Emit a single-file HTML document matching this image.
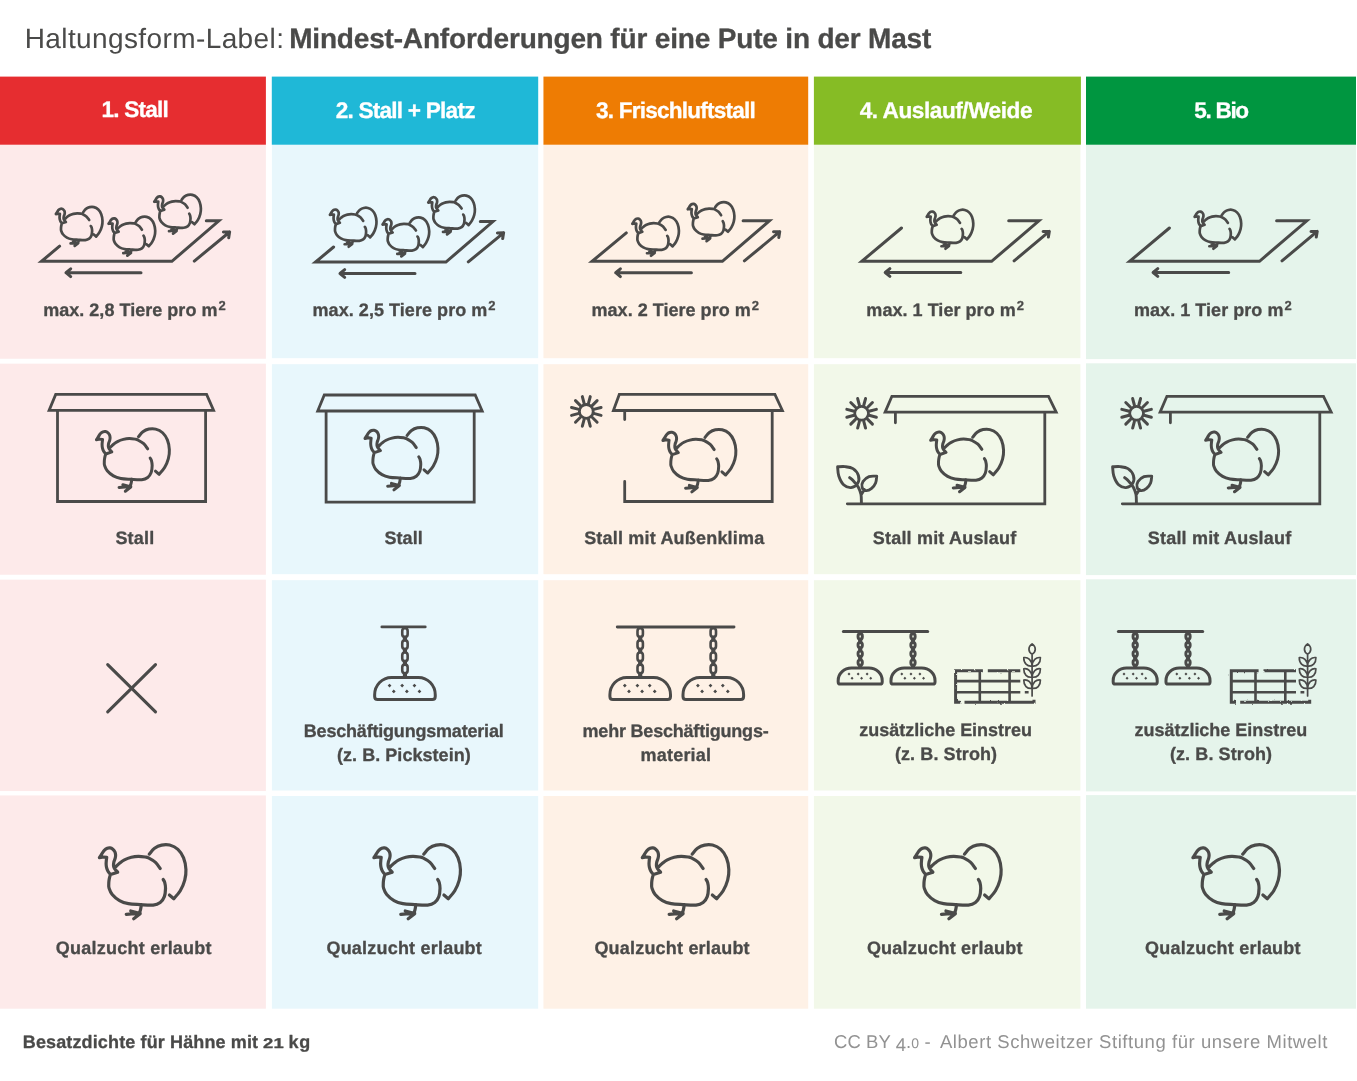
<!DOCTYPE html>
<html lang="de"><head><meta charset="utf-8"><title>Haltungsform-Label: Mindest-Anforderungen für eine Pute in der Mast</title>
<style>
html,body{margin:0;padding:0;background:#fff}
#p{position:relative;width:1357px;height:1081px;overflow:hidden;background:#fff}
.c{position:absolute}
#tx{position:absolute;left:0;top:0;font-family:"Liberation Sans",sans-serif;font-size:18px;font-weight:bold;fill:#4a4a49;stroke:#4a4a49;stroke-width:.3px;stroke-linejoin:round;white-space:pre}
#ic{position:absolute;left:0;top:0;fill:none;stroke:#4a4a49;stroke-linecap:round;stroke-linejoin:round}
</style></head>
<body><div id="p">
<svg id="ic" width="1357" height="1081" viewBox="0 0 1357 1081">
<defs><path id="tk" d="M0.51,14.38C0.93,13.72 2.24,11.68 3.05,10.44C3.86,9.21 4.48,7.88 5.37,6.97C6.26,6.06 7.41,5.36 8.38,4.98C9.34,4.59 10.23,4.5 11.16,4.65C12.08,4.81 13.12,5.25 13.93,5.9C14.74,6.56 15.55,7.6 16.02,8.59C16.48,9.58 16.67,10.75 16.71,11.83C16.75,12.91 16.54,13.91 16.25,15.07C15.95,16.23 15.22,17.54 14.95,18.77C14.68,20.01 14.5,21.38 14.63,22.48C14.75,23.57 15,24.28 15.69,25.35C16.39,26.41 18.28,28.28 18.79,28.87L11.62,31.27C11.19,30.73 9.73,29.19 9.07,28.03C8.42,26.88 7.99,25.56 7.68,24.33C7.37,23.1 7.26,21.86 7.22,20.63C7.18,19.39 7.35,18.02 7.45,16.92C7.55,15.83 7.76,14.53 7.82,14.05L4.67,13.68ZM17.41,22.94C17.98,22.4 19.53,20.76 20.88,19.7C22.23,18.64 23.58,17.5 25.51,16.55C27.44,15.6 30.14,14.59 32.45,14.01C34.77,13.42 37.08,13.09 39.4,13.03C41.71,12.98 44.65,13.42 46.34,13.68C48.03,13.95 47.82,13.72 49.53,14.62C51.24,15.53 54.64,17.33 56.6,19.1C58.57,20.87 60.53,24.21 61.32,25.24M11.62,31.27C11.46,31.74 10.95,32.97 10.69,34.05C10.43,35.13 10.18,36.6 10.04,37.76C9.91,38.91 9.84,39.83 9.86,41C9.87,42.16 9.56,43.05 10.14,44.75C10.71,46.44 11.58,49.09 13.33,51.18C15.08,53.27 17.94,55.78 20.64,57.31C23.33,58.84 26.04,59.71 29.48,60.38C32.92,61.05 37.15,61.08 41.27,61.32C45.4,61.56 50.9,62.15 54.25,61.79C57.59,61.44 59.45,60.61 61.32,59.2C63.19,57.78 64.56,55.66 65.45,53.3C66.33,50.94 66.57,47.41 66.63,45.05C66.69,42.69 66.19,40.62 65.8,39.15C65.41,37.68 64.52,36.69 64.27,36.2M50.35,10.85C51.24,9.87 53.6,6.47 55.66,4.95C57.72,3.44 60.22,2.3 62.74,1.77C65.25,1.24 68.04,1.04 70.75,1.77C73.47,2.5 76.69,3.99 79.01,6.13C81.33,8.27 83.33,11.28 84.67,14.62C86.01,17.96 86.83,22.48 87.03,26.18C87.22,29.87 86.79,33.25 85.85,36.79C84.91,40.33 83.2,44.3 81.37,47.41C79.54,50.51 75.96,54.09 74.88,55.42L70.52,51.65M42.45,61.32C42.32,62.15 41.98,64.82 41.63,66.27C41.27,67.73 40.55,69.42 40.33,70.05M27.36,70.99L41.27,69.81M31.84,67.69L39.5,69.81M34.79,75.47L41.27,70.4"/><path id="tks" d="M0.51,14.38C0.93,13.72 2.24,11.68 3.05,10.44C3.86,9.21 4.48,7.88 5.37,6.97C6.26,6.06 7.41,5.36 8.38,4.98C9.34,4.59 10.23,4.5 11.16,4.65C12.08,4.81 13.12,5.25 13.93,5.9C14.74,6.56 15.55,7.6 16.02,8.59C16.48,9.58 16.67,10.75 16.71,11.83C16.75,12.91 16.54,13.91 16.25,15.07C15.95,16.23 15.22,17.54 14.95,18.77C14.68,20.01 14.5,21.38 14.63,22.48C14.75,23.57 15,24.28 15.69,25.35C16.39,26.41 18.28,28.28 18.79,28.87L11.62,31.27C11.19,30.73 9.73,29.19 9.07,28.03C8.42,26.88 7.99,25.56 7.68,24.33C7.37,23.1 7.26,21.86 7.22,20.63C7.18,19.39 7.35,18.02 7.45,16.92C7.55,15.83 7.76,14.53 7.82,14.05L4.67,13.68ZM17.41,22.94C17.98,22.4 19.53,20.76 20.88,19.7C22.23,18.64 23.58,17.5 25.51,16.55C27.44,15.6 30.14,14.59 32.45,14.01C34.77,13.42 37.08,13.09 39.4,13.03C41.71,12.98 44.65,13.42 46.34,13.68C48.03,13.95 47.82,13.72 49.53,14.62C51.24,15.53 54.64,17.33 56.6,19.1C58.57,20.87 60.53,24.21 61.32,25.24M11.62,31.27C11.46,31.74 10.95,32.97 10.69,34.05C10.43,35.13 10.18,36.6 10.04,37.76C9.91,38.91 9.84,39.83 9.86,41C9.87,42.16 9.56,43.05 10.14,44.75C10.71,46.44 11.58,49.09 13.33,51.18C15.08,53.27 17.94,55.78 20.64,57.31C23.33,58.84 26.04,59.71 29.48,60.38C32.92,61.05 37.15,61.08 41.27,61.32C45.4,61.56 50.9,62.15 54.25,61.79C57.59,61.44 59.45,60.61 61.32,59.2C63.19,57.78 64.56,55.66 65.45,53.3C66.33,50.94 66.57,47.41 66.63,45.05C66.69,42.69 66.19,40.62 65.8,39.15C65.41,37.68 64.52,36.69 64.27,36.2M50.34,10.85C51.19,9.87 53.46,6.47 55.44,4.95C57.42,3.44 59.82,2.3 62.23,1.77C64.65,1.24 67.33,1.04 69.93,1.77C72.53,2.5 75.63,3.99 77.85,6.13C80.08,8.27 82,11.28 83.29,14.62C84.57,17.96 85.36,22.48 85.55,26.18C85.74,29.87 85.33,33.25 84.42,36.79C83.51,40.33 81.87,44.3 80.12,47.41C78.36,50.51 74.93,54.09 73.89,55.42L69.7,51.65M42.45,61.32C42.32,61.9 41.98,63.82 41.63,64.77C41.27,65.73 40.55,66.67 40.33,67.05M27.36,67.99L41.27,66.81M31.84,64.69L39.5,66.81M34.79,72.47L41.27,67.4"/><filter id="rough" x="-5%" y="-20%" width="110%" height="140%"><feTurbulence type="fractalNoise" baseFrequency="0.3" numOctaves="1" seed="5" result="n"/><feDisplacementMap in="SourceGraphic" in2="n" scale="2.6" xChannelSelector="R" yChannelSelector="G"/></filter></defs>
<rect x="0" y="143.7" width="265.9" height="215.05" fill="#fdeaea" stroke="none"/>
<rect x="0" y="363.65" width="265.9" height="211.1" fill="#fdeaea" stroke="none"/>
<rect x="0" y="579.65" width="265.9" height="211.4" fill="#fdeaea" stroke="none"/>
<rect x="0" y="795.45" width="265.9" height="213.25" fill="#fdeaea" stroke="none"/>
<rect x="271.9" y="143.7" width="266.3" height="214.5" fill="#e8f7fc" stroke="none"/>
<rect x="271.9" y="364.2" width="266.3" height="210" fill="#e8f7fc" stroke="none"/>
<rect x="271.9" y="580.2" width="266.3" height="210.3" fill="#e8f7fc" stroke="none"/>
<rect x="271.9" y="796" width="266.3" height="212.7" fill="#e8f7fc" stroke="none"/>
<rect x="543.45" y="143.7" width="264.75" height="214.5" fill="#fef1e6" stroke="none"/>
<rect x="543.45" y="364.2" width="264.75" height="210" fill="#fef1e6" stroke="none"/>
<rect x="543.45" y="580.2" width="264.75" height="210.3" fill="#fef1e6" stroke="none"/>
<rect x="543.45" y="796" width="264.75" height="212.7" fill="#fef1e6" stroke="none"/>
<rect x="813.9" y="143.7" width="266.5" height="214.5" fill="#f2f8e9" stroke="none"/>
<rect x="813.9" y="364.2" width="266.5" height="210" fill="#f2f8e9" stroke="none"/>
<rect x="813.9" y="580.2" width="266.5" height="210.3" fill="#f2f8e9" stroke="none"/>
<rect x="813.9" y="796" width="266.5" height="212.7" fill="#f2f8e9" stroke="none"/>
<rect x="1086" y="143.7" width="270" height="215.4" fill="#e5f4eb" stroke="none"/>
<rect x="1086" y="363.3" width="270" height="211.8" fill="#e5f4eb" stroke="none"/>
<rect x="1086" y="579.3" width="270" height="212.1" fill="#e5f4eb" stroke="none"/>
<rect x="1086" y="795.1" width="270" height="213.6" fill="#e5f4eb" stroke="none"/>
<rect x="0" y="76.6" width="265.9" height="68.1" fill="#e62d30" stroke="none"/>
<rect x="271.8" y="76.6" width="266.4" height="68.1" fill="#1fb8d7" stroke="none"/>
<rect x="543.45" y="76.6" width="264.75" height="68.1" fill="#ee7c03" stroke="none"/>
<rect x="813.9" y="76.6" width="267" height="68.1" fill="#86bc25" stroke="none"/>
<rect x="1086" y="76.6" width="270" height="68.1" fill="#009640" stroke="none"/>
<path d="M59.6,246.2L41.5,261.3L171.9,261.3L218.9,220.8L206.3,220.8" stroke-width="3" stroke-linejoin="miter"/>
<path d="M141,272.7L66,272.7M70.7,268.8L66,272.7L70.7,276.6" stroke-width="3"/>
<path d="M194.3,261.1L229.6,232M223.4,232.1L229.6,232L228.7,237.7" stroke-width="3"/>
<use href="#tks" transform="translate(55.6,206.2) scale(0.548)" stroke-width="4.93"/>
<use href="#tks" transform="translate(108.3,215.9) scale(0.548)" stroke-width="4.93"/>
<use href="#tks" transform="translate(154,193.9) scale(0.548)" stroke-width="4.93"/>
<path d="M333.6,247L315.5,262.1L445.9,262.1L492.9,221.6L480.3,221.6" stroke-width="3" stroke-linejoin="miter"/>
<path d="M415,273.5L340,273.5M344.7,269.6L340,273.5L344.7,277.4" stroke-width="3"/>
<path d="M468.3,261.9L503.6,232.8M497.4,232.9L503.6,232.8L502.7,238.5" stroke-width="3"/>
<use href="#tks" transform="translate(329.6,207) scale(0.548)" stroke-width="4.93"/>
<use href="#tks" transform="translate(382.3,216.7) scale(0.548)" stroke-width="4.93"/>
<use href="#tks" transform="translate(428,194.7) scale(0.548)" stroke-width="4.93"/>
<path d="M626.3,232.9L592.1,261.3L722.4,261.3L769.4,220.8L743.1,220.8" stroke-width="3" stroke-linejoin="miter"/>
<path d="M691.4,272.7L615.7,272.7M620.4,268.8L615.7,272.7L620.4,276.6" stroke-width="3"/>
<path d="M744.4,260.9L779.7,231.7M773.5,231.8L779.7,231.7L778.8,237.4" stroke-width="3"/>
<use href="#tks" transform="translate(632,216) scale(0.548)" stroke-width="4.93"/>
<use href="#tks" transform="translate(687.5,201.4) scale(0.548)" stroke-width="4.93"/>
<path d="M901.5,228L861.8,261.3L991.6,261.3L1038.9,220.8L1008.7,220.8" stroke-width="3" stroke-linejoin="miter"/>
<path d="M960.8,272.5L885.2,272.5M889.9,268.6L885.2,272.5L889.9,276.4" stroke-width="3"/>
<path d="M1014.1,260.9L1049.3,231.4M1043.1,231.5L1049.3,231.4L1048.4,237.1" stroke-width="3"/>
<use href="#tks" transform="translate(926.4,209) scale(0.548)" stroke-width="4.93"/>
<path d="M1169.4,228L1129.7,261.3L1259.5,261.3L1306.8,220.8L1276.6,220.8" stroke-width="3" stroke-linejoin="miter"/>
<path d="M1228.7,272.5L1153.1,272.5M1157.8,268.6L1153.1,272.5L1157.8,276.4" stroke-width="3"/>
<path d="M1282,260.9L1317.2,231.4M1311,231.5L1317.2,231.4L1316.3,237.1" stroke-width="3"/>
<use href="#tks" transform="translate(1194.3,209) scale(0.548)" stroke-width="4.93"/>
<path d="M55.7,394.4L206.6,394.4L213.6,410.4L49.1,410.4ZM57.5,410.4L57.5,501.5L205.6,501.5L205.6,410.4" stroke-width="2.8" stroke-linejoin="miter"/>
<use href="#tk" transform="translate(96,427.6) scale(0.843)" stroke-width="3.56"/>
<path d="M324.3,395L475.2,395L482.2,411L317.7,411ZM326.1,411L326.1,502.1L474.2,502.1L474.2,411" stroke-width="2.8" stroke-linejoin="miter"/>
<use href="#tk" transform="translate(364.6,426.3) scale(0.843)" stroke-width="3.56"/>
<path d="M619.3,394.4L774.9,394.4L782.4,410.5L613.4,410.5ZM772.2,410.5L772.2,501.5L624.7,501.5L624.7,481.5M624.7,410.5L624.7,419.5" stroke-width="2.8" stroke-linejoin="miter"/>
<path d="M588.53,403.09L590.26,396.62M592.38,405.32L597.12,400.58M594.61,409.17L601.08,407.44M594.61,413.63L601.08,415.36M592.38,417.48L597.12,422.22M588.53,419.71L590.26,426.18M584.07,419.71L582.34,426.18M580.22,417.48L575.48,422.22M577.99,413.63L571.52,415.36M577.99,409.17L571.52,407.44M580.22,405.32L575.48,400.58M584.07,403.09L582.34,396.62" stroke-width="3"/>
<circle cx="586.3" cy="411.4" r="6.9" stroke-width="2.8"/>
<use href="#tk" transform="translate(662.5,428.3) scale(0.843)" stroke-width="3.56"/>
<path d="M891.9,396.3L1048.5,396.3L1056.2,412.2L885.1,412.2ZM1044.8,412.2L1044.8,503.8L847.3,503.8M895.4,412.2L895.4,422.8" stroke-width="2.8" stroke-linejoin="miter"/>
<path d="M863.83,404.99L865.56,398.52M867.68,407.22L872.42,402.48M869.91,411.07L876.38,409.34M869.91,415.53L876.38,417.26M867.68,419.38L872.42,424.12M863.83,421.61L865.56,428.08M859.37,421.61L857.64,428.08M855.52,419.38L850.78,424.12M853.29,415.53L846.82,417.26M853.29,411.07L846.82,409.34M855.52,407.22L850.78,402.48M859.37,404.99L857.64,398.52" stroke-width="3"/>
<circle cx="861.6" cy="413.3" r="6.9" stroke-width="2.8"/>
<path d="M861.4,503C861.33,501.58 861.53,497.17 861,494.5C860.47,491.83 859.45,489.25 858.2,487C856.95,484.75 854.93,482.57 853.5,481C852.07,479.43 850.25,478.17 849.6,477.6M837.6,466.8C838.83,466.77 842.43,466.3 845,466.6C847.57,466.9 850.77,467.12 853,468.6C855.23,470.08 857.63,473 858.4,475.5C859.17,478 858.83,481.58 857.6,483.6C856.37,485.62 853.33,487.4 851,487.6C848.67,487.8 845.63,486.73 843.6,484.8C841.57,482.87 839.8,479 838.8,476C837.8,473 837.8,468.33 837.6,466.8M876.7,476.2C875.42,476.27 871.28,475.7 869,476.6C866.72,477.5 864.13,479.77 863,481.6C861.87,483.43 861.7,486.1 862.2,487.6C862.7,489.1 864.43,490.47 866,490.6C867.57,490.73 870,489.67 871.6,488.4C873.2,487.13 874.75,485.03 875.6,483C876.45,480.97 876.52,477.33 876.7,476.2M861.2,494.8L864.4,489.6" stroke-width="2.9" stroke-linejoin="miter"/>
<use href="#tk" transform="translate(930.2,428.1) scale(0.843)" stroke-width="3.56"/>
<path d="M1166.9,396.3L1323.5,396.3L1331.2,412.2L1160.1,412.2ZM1319.8,412.2L1319.8,503.8L1122.3,503.8M1170.4,412.2L1170.4,422.8" stroke-width="2.8" stroke-linejoin="miter"/>
<path d="M1138.83,404.99L1140.56,398.52M1142.68,407.22L1147.42,402.48M1144.91,411.07L1151.38,409.34M1144.91,415.53L1151.38,417.26M1142.68,419.38L1147.42,424.12M1138.83,421.61L1140.56,428.08M1134.37,421.61L1132.64,428.08M1130.52,419.38L1125.78,424.12M1128.29,415.53L1121.82,417.26M1128.29,411.07L1121.82,409.34M1130.52,407.22L1125.78,402.48M1134.37,404.99L1132.64,398.52" stroke-width="3"/>
<circle cx="1136.6" cy="413.3" r="6.9" stroke-width="2.8"/>
<path d="M1136.4,503C1136.33,501.58 1136.53,497.17 1136,494.5C1135.47,491.83 1134.45,489.25 1133.2,487C1131.95,484.75 1129.93,482.57 1128.5,481C1127.07,479.43 1125.25,478.17 1124.6,477.6M1112.6,466.8C1113.83,466.77 1117.43,466.3 1120,466.6C1122.57,466.9 1125.77,467.12 1128,468.6C1130.23,470.08 1132.63,473 1133.4,475.5C1134.17,478 1133.83,481.58 1132.6,483.6C1131.37,485.62 1128.33,487.4 1126,487.6C1123.67,487.8 1120.63,486.73 1118.6,484.8C1116.57,482.87 1114.8,479 1113.8,476C1112.8,473 1112.8,468.33 1112.6,466.8M1151.7,476.2C1150.42,476.27 1146.28,475.7 1144,476.6C1141.72,477.5 1139.13,479.77 1138,481.6C1136.87,483.43 1136.7,486.1 1137.2,487.6C1137.7,489.1 1139.43,490.47 1141,490.6C1142.57,490.73 1145,489.67 1146.6,488.4C1148.2,487.13 1149.75,485.03 1150.6,483C1151.45,480.97 1151.52,477.33 1151.7,476.2M1136.2,494.8L1139.4,489.6" stroke-width="2.9" stroke-linejoin="miter"/>
<use href="#tk" transform="translate(1205.2,428.1) scale(0.843)" stroke-width="3.56"/>
<path d="M107.7,664.6L155.5,711.9M155.5,664.6L107.7,711.9" stroke-width="3.1"/>
<path d="M381.9,626.9L425.2,626.9" stroke-width="2.9"/>
<rect x="402.25" y="628.3" width="5.4" height="8.6" rx="2.7" stroke-width="2.6"/>
<rect x="402.25" y="640.4" width="5.4" height="8.6" rx="2.7" stroke-width="2.6"/>
<rect x="402.25" y="652.5" width="5.4" height="8.6" rx="2.7" stroke-width="2.6"/>
<rect x="402.25" y="664.6" width="5.4" height="8.6" rx="2.7" stroke-width="2.6"/>
<path d="M404.95,627L404.95,628M404.95,637.2L404.95,640.1M404.95,649.3L404.95,652.2M404.95,661.4L404.95,664.3M404.95,673.5L404.95,677.45" stroke-width="4.2" stroke-linecap="butt"/>
<path d="M377.65,699.55L432.25,699.55Q435.25,699.55 435.25,696.55L435.25,694.85C435.25,685.25 427.73,677.45 418.45,677.45L391.45,677.45C382.17,677.45 374.65,685.25 374.65,694.85L374.65,696.55Q374.65,699.55 377.65,699.55Z" stroke-width="3"/>
<path d="M387.65,685.55l1.9,-1.9l1.9,1.9l-1.9,1.9ZM400.25,685.55l1.9,-1.9l1.9,1.9l-1.9,1.9ZM412.55,685.55l1.9,-1.9l1.9,1.9l-1.9,1.9ZM391.85,691.45l1.9,-1.9l1.9,1.9l-1.9,1.9ZM404.95,691.45l1.9,-1.9l1.9,1.9l-1.9,1.9ZM417.55,691.45l1.9,-1.9l1.9,1.9l-1.9,1.9Z" fill="#4a4a49" stroke="none"/>
<path d="M617.3,627L734,627" stroke-width="2.9"/>
<rect x="637.5" y="628.3" width="5.4" height="8.6" rx="2.7" stroke-width="2.6"/>
<rect x="637.5" y="640.4" width="5.4" height="8.6" rx="2.7" stroke-width="2.6"/>
<rect x="637.5" y="652.5" width="5.4" height="8.6" rx="2.7" stroke-width="2.6"/>
<rect x="637.5" y="664.6" width="5.4" height="8.6" rx="2.7" stroke-width="2.6"/>
<path d="M640.2,627L640.2,628M640.2,637.2L640.2,640.1M640.2,649.3L640.2,652.2M640.2,661.4L640.2,664.3M640.2,673.5L640.2,677.45" stroke-width="4.2" stroke-linecap="butt"/>
<path d="M612.9,699.55L667.5,699.55Q670.5,699.55 670.5,696.55L670.5,694.85C670.5,685.25 662.98,677.45 653.7,677.45L626.7,677.45C617.42,677.45 609.9,685.25 609.9,694.85L609.9,696.55Q609.9,699.55 612.9,699.55Z" stroke-width="3"/>
<path d="M622.9,685.55l1.9,-1.9l1.9,1.9l-1.9,1.9ZM635.5,685.55l1.9,-1.9l1.9,1.9l-1.9,1.9ZM647.8,685.55l1.9,-1.9l1.9,1.9l-1.9,1.9ZM627.1,691.45l1.9,-1.9l1.9,1.9l-1.9,1.9ZM640.2,691.45l1.9,-1.9l1.9,1.9l-1.9,1.9ZM652.8,691.45l1.9,-1.9l1.9,1.9l-1.9,1.9Z" fill="#4a4a49" stroke="none"/>
<rect x="710.6" y="628.3" width="5.4" height="8.6" rx="2.7" stroke-width="2.6"/>
<rect x="710.6" y="640.4" width="5.4" height="8.6" rx="2.7" stroke-width="2.6"/>
<rect x="710.6" y="652.5" width="5.4" height="8.6" rx="2.7" stroke-width="2.6"/>
<rect x="710.6" y="664.6" width="5.4" height="8.6" rx="2.7" stroke-width="2.6"/>
<path d="M713.3,627L713.3,628M713.3,637.2L713.3,640.1M713.3,649.3L713.3,652.2M713.3,661.4L713.3,664.3M713.3,673.5L713.3,677.45" stroke-width="4.2" stroke-linecap="butt"/>
<path d="M686,699.55L740.6,699.55Q743.6,699.55 743.6,696.55L743.6,694.85C743.6,685.25 736.08,677.45 726.8,677.45L699.8,677.45C690.52,677.45 683,685.25 683,694.85L683,696.55Q683,699.55 686,699.55Z" stroke-width="3"/>
<path d="M696,685.55l1.9,-1.9l1.9,1.9l-1.9,1.9ZM708.6,685.55l1.9,-1.9l1.9,1.9l-1.9,1.9ZM720.9,685.55l1.9,-1.9l1.9,1.9l-1.9,1.9ZM700.2,691.45l1.9,-1.9l1.9,1.9l-1.9,1.9ZM713.3,691.45l1.9,-1.9l1.9,1.9l-1.9,1.9ZM725.9,691.45l1.9,-1.9l1.9,1.9l-1.9,1.9Z" fill="#4a4a49" stroke="none"/>
<path d="M843.4,631.6L927.7,631.6" stroke-width="3"/>
<rect x="858.05" y="633.75" width="4.3" height="5.3" rx="2.15" stroke-width="2.9"/>
<rect x="858.05" y="642.45" width="4.3" height="5.3" rx="2.15" stroke-width="2.9"/>
<rect x="858.05" y="651.15" width="4.3" height="5.3" rx="2.15" stroke-width="2.9"/>
<rect x="858.05" y="659.85" width="4.3" height="5.3" rx="2.15" stroke-width="2.9"/>
<path d="M860.2,631.6L860.2,633.3M860.2,639.5L860.2,642M860.2,648.2L860.2,650.7M860.2,656.9L860.2,659.4M860.2,665.6L860.2,668" stroke-width="4.2" stroke-linecap="butt"/>
<path d="M840.35,684.07L880.05,684.07Q882.23,684.07 882.23,681.89L882.23,680.65C882.23,673.67 876.27,668 868.92,668L851.48,668C844.13,668 838.17,673.67 838.17,680.65L838.17,681.89Q838.17,684.07 840.35,684.07Z" stroke-width="3"/>
<path d="M847.5,673.89l1.5,-1.5l1.5,1.5l-1.5,1.5ZM856.66,673.89l1.5,-1.5l1.5,1.5l-1.5,1.5ZM865.61,673.89l1.5,-1.5l1.5,1.5l-1.5,1.5ZM850.56,678.18l1.5,-1.5l1.5,1.5l-1.5,1.5ZM860.08,678.18l1.5,-1.5l1.5,1.5l-1.5,1.5ZM869.24,678.18l1.5,-1.5l1.5,1.5l-1.5,1.5Z" fill="#4a4a49" stroke="none"/>
<rect x="910.85" y="633.75" width="4.3" height="5.3" rx="2.15" stroke-width="2.9"/>
<rect x="910.85" y="642.45" width="4.3" height="5.3" rx="2.15" stroke-width="2.9"/>
<rect x="910.85" y="651.15" width="4.3" height="5.3" rx="2.15" stroke-width="2.9"/>
<rect x="910.85" y="659.85" width="4.3" height="5.3" rx="2.15" stroke-width="2.9"/>
<path d="M913,631.6L913,633.3M913,639.5L913,642M913,648.2L913,650.7M913,656.9L913,659.4M913,665.6L913,668" stroke-width="4.2" stroke-linecap="butt"/>
<path d="M893.15,684.07L932.85,684.07Q935.03,684.07 935.03,681.89L935.03,680.65C935.03,673.67 929.07,668 921.72,668L904.28,668C896.93,668 890.97,673.67 890.97,680.65L890.97,681.89Q890.97,684.07 893.15,684.07Z" stroke-width="3"/>
<path d="M900.3,673.89l1.5,-1.5l1.5,1.5l-1.5,1.5ZM909.46,673.89l1.5,-1.5l1.5,1.5l-1.5,1.5ZM918.41,673.89l1.5,-1.5l1.5,1.5l-1.5,1.5ZM903.36,678.18l1.5,-1.5l1.5,1.5l-1.5,1.5ZM912.88,678.18l1.5,-1.5l1.5,1.5l-1.5,1.5ZM922.04,678.18l1.5,-1.5l1.5,1.5l-1.5,1.5Z" fill="#4a4a49" stroke="none"/>
<path d="M982.9,670.8L955.6,670.8L955.6,702.2L960.3,702.2M987.8,670.8L1020.3,670.8M964.5,702.2L1034,702.2L1034,699.8" stroke-width="3" stroke-linecap="butt" stroke-linejoin="miter" filter="url(#rough)"/>
<path d="M955.6,681.1L1020.3,681.1M955.6,692.3L1020.3,692.3M979.8,670.8L979.8,702.2M1009.6,670.8L1009.6,702.2M1024.8,692.3L1028.6,692.3" stroke-width="2.6" stroke-linecap="butt" stroke-linejoin="miter"/>
<path d="M1032.1,654L1032.1,696M1032.1,643.9C1036.3,647 1036.3,651.6 1032.1,654.2C1027.9,651.6 1027.9,647 1032.1,643.9ZM1032.1,666C1031.8,660 1028.1,657 1023.8,657.6C1023.6,663.2 1027.1,666.6 1032.1,666M1032.1,666C1032.4,660 1036.1,657 1040.4,657.6C1040.6,663.2 1037.1,666.6 1032.1,666M1032.1,677.2C1031.8,671.2 1028.1,668.2 1023.8,668.8C1023.6,674.4 1027.1,677.8 1032.1,677.2M1032.1,677.2C1032.4,671.2 1036.1,668.2 1040.4,668.8C1040.6,674.4 1037.1,677.8 1032.1,677.2M1032.1,688.4C1031.8,682.4 1028.1,679.4 1023.8,680C1023.6,685.6 1027.1,689 1032.1,688.4M1032.1,688.4C1032.4,682.4 1036.1,679.4 1040.4,680C1040.6,685.6 1037.1,689 1032.1,688.4" stroke-width="1.7" stroke-linejoin="round"/>
<path d="M1118.4,631.6L1202.7,631.6" stroke-width="3"/>
<rect x="1133.05" y="633.75" width="4.3" height="5.3" rx="2.15" stroke-width="2.9"/>
<rect x="1133.05" y="642.45" width="4.3" height="5.3" rx="2.15" stroke-width="2.9"/>
<rect x="1133.05" y="651.15" width="4.3" height="5.3" rx="2.15" stroke-width="2.9"/>
<rect x="1133.05" y="659.85" width="4.3" height="5.3" rx="2.15" stroke-width="2.9"/>
<path d="M1135.2,631.6L1135.2,633.3M1135.2,639.5L1135.2,642M1135.2,648.2L1135.2,650.7M1135.2,656.9L1135.2,659.4M1135.2,665.6L1135.2,668" stroke-width="4.2" stroke-linecap="butt"/>
<path d="M1115.35,684.07L1155.05,684.07Q1157.23,684.07 1157.23,681.89L1157.23,680.65C1157.23,673.67 1151.27,668 1143.92,668L1126.48,668C1119.13,668 1113.17,673.67 1113.17,680.65L1113.17,681.89Q1113.17,684.07 1115.35,684.07Z" stroke-width="3"/>
<path d="M1122.5,673.89l1.5,-1.5l1.5,1.5l-1.5,1.5ZM1131.66,673.89l1.5,-1.5l1.5,1.5l-1.5,1.5ZM1140.61,673.89l1.5,-1.5l1.5,1.5l-1.5,1.5ZM1125.56,678.18l1.5,-1.5l1.5,1.5l-1.5,1.5ZM1135.08,678.18l1.5,-1.5l1.5,1.5l-1.5,1.5ZM1144.24,678.18l1.5,-1.5l1.5,1.5l-1.5,1.5Z" fill="#4a4a49" stroke="none"/>
<rect x="1185.85" y="633.75" width="4.3" height="5.3" rx="2.15" stroke-width="2.9"/>
<rect x="1185.85" y="642.45" width="4.3" height="5.3" rx="2.15" stroke-width="2.9"/>
<rect x="1185.85" y="651.15" width="4.3" height="5.3" rx="2.15" stroke-width="2.9"/>
<rect x="1185.85" y="659.85" width="4.3" height="5.3" rx="2.15" stroke-width="2.9"/>
<path d="M1188,631.6L1188,633.3M1188,639.5L1188,642M1188,648.2L1188,650.7M1188,656.9L1188,659.4M1188,665.6L1188,668" stroke-width="4.2" stroke-linecap="butt"/>
<path d="M1168.15,684.07L1207.85,684.07Q1210.03,684.07 1210.03,681.89L1210.03,680.65C1210.03,673.67 1204.07,668 1196.72,668L1179.28,668C1171.93,668 1165.97,673.67 1165.97,680.65L1165.97,681.89Q1165.97,684.07 1168.15,684.07Z" stroke-width="3"/>
<path d="M1175.3,673.89l1.5,-1.5l1.5,1.5l-1.5,1.5ZM1184.46,673.89l1.5,-1.5l1.5,1.5l-1.5,1.5ZM1193.41,673.89l1.5,-1.5l1.5,1.5l-1.5,1.5ZM1178.36,678.18l1.5,-1.5l1.5,1.5l-1.5,1.5ZM1187.88,678.18l1.5,-1.5l1.5,1.5l-1.5,1.5ZM1197.04,678.18l1.5,-1.5l1.5,1.5l-1.5,1.5Z" fill="#4a4a49" stroke="none"/>
<path d="M1258.6,670.8L1231.3,670.8L1231.3,702.2L1236,702.2M1263.5,670.8L1296,670.8M1240.2,702.2L1309.7,702.2L1309.7,699.8" stroke-width="3" stroke-linecap="butt" stroke-linejoin="miter" filter="url(#rough)"/>
<path d="M1231.3,681.1L1296,681.1M1231.3,692.3L1296,692.3M1255.5,670.8L1255.5,702.2M1285.3,670.8L1285.3,702.2M1300.5,692.3L1304.3,692.3" stroke-width="2.6" stroke-linecap="butt" stroke-linejoin="miter"/>
<path d="M1307.6,654L1307.6,696M1307.6,643.9C1311.8,647 1311.8,651.6 1307.6,654.2C1303.4,651.6 1303.4,647 1307.6,643.9ZM1307.6,666C1307.3,660 1303.6,657 1299.3,657.6C1299.1,663.2 1302.6,666.6 1307.6,666M1307.6,666C1307.9,660 1311.6,657 1315.9,657.6C1316.1,663.2 1312.6,666.6 1307.6,666M1307.6,677.2C1307.3,671.2 1303.6,668.2 1299.3,668.8C1299.1,674.4 1302.6,677.8 1307.6,677.2M1307.6,677.2C1307.9,671.2 1311.6,668.2 1315.9,668.8C1316.1,674.4 1312.6,677.8 1307.6,677.2M1307.6,688.4C1307.3,682.4 1303.6,679.4 1299.3,680C1299.1,685.6 1302.6,689 1307.6,688.4M1307.6,688.4C1307.9,682.4 1311.6,679.4 1315.9,680C1316.1,685.6 1312.6,689 1307.6,688.4" stroke-width="1.7" stroke-linejoin="round"/>
<use href="#tk" transform="translate(98.9,843.3) scale(1)" stroke-width="3.2"/>
<use href="#tk" transform="translate(373.4,843.3) scale(1)" stroke-width="3.2"/>
<use href="#tk" transform="translate(641.8,843.3) scale(1)" stroke-width="3.2"/>
<use href="#tk" transform="translate(914.1,843.3) scale(1)" stroke-width="3.2"/>
<use href="#tk" transform="translate(1192.4,843.3) scale(1)" stroke-width="3.2"/>
</svg>
<svg id="tx" width="1357" height="1081" viewBox="0 0 1357 1081" text-rendering="geometricPrecision">
<text x="24.69" y="48" font-size="28" font-weight="normal" stroke="none" letter-spacing="0.397">Haltungsform-Label:</text>
<text x="289.16" y="48" font-size="28" letter-spacing="-0.176">Mindest-Anforderungen für eine Pute in der Mast</text>
<text x="101.48" y="117" font-size="22.6" fill="#fff" stroke="#fff" letter-spacing="-0.802">1. Stall</text>
<text x="335.64" y="118" font-size="22.6" fill="#fff" stroke="#fff" letter-spacing="-0.765">2. Stall + Platz</text>
<text x="596.04" y="118" font-size="22.6" fill="#fff" stroke="#fff" letter-spacing="-0.792">3. Frischluftstall</text>
<text x="859.64" y="118" font-size="22.6" fill="#fff" stroke="#fff" letter-spacing="-0.444">4. Auslauf/Weide</text>
<text x="1194.18" y="118" font-size="22.6" fill="#fff" stroke="#fff" letter-spacing="-1.303">5. Bio</text>
<text x="43.16" y="316" letter-spacing="0.028">max. 2,8 Tiere pro m<tspan font-size="13" dx="1" dy="-6">2</tspan></text>
<text x="312.56" y="316" letter-spacing="0.053">max. 2,5 Tiere pro m<tspan font-size="13" dx="1" dy="-6">2</tspan></text>
<text x="591.54" y="316" letter-spacing="0.026">max. 2 Tiere pro m<tspan font-size="13" dx="1" dy="-6">2</tspan></text>
<text x="866.34" y="316" letter-spacing="0.042">max. 1 Tier pro m<tspan font-size="13" dx="1" dy="-6">2</tspan></text>
<text x="1133.99" y="316" letter-spacing="0.047">max. 1 Tier pro m<tspan font-size="13" dx="1" dy="-6">2</tspan></text>
<text x="115.38" y="544" letter-spacing="0.222">Stall</text>
<text x="384.4" y="544" letter-spacing="0.115">Stall</text>
<text x="584.16" y="544" letter-spacing="0.193">Stall mit Außenklima</text>
<text x="872.87" y="544" letter-spacing="0.183">Stall mit Auslauf</text>
<text x="1147.87" y="544" letter-spacing="0.183">Stall mit Auslauf</text>
<text x="303.81" y="737" letter-spacing="-0.197">Beschäftigungsmaterial</text>
<text x="336.94" y="761" letter-spacing="0.05">(z. B. Pickstein)</text>
<text x="582.57" y="737" letter-spacing="-0.206">mehr Beschäftigungs-</text>
<text x="640.57" y="761" letter-spacing="0.206">material</text>
<text x="859.27" y="736" letter-spacing="-0.014">zusätzliche Einstreu</text>
<text x="894.91" y="760" letter-spacing="0.102">(z. B. Stroh)</text>
<text x="1134.56" y="736" letter-spacing="-0.024">zusätzliche Einstreu</text>
<text x="1169.9" y="760" letter-spacing="0.103">(z. B. Stroh)</text>
<text x="55.75" y="954" letter-spacing="0.238">Qualzucht erlaubt</text>
<text x="326.43" y="954" letter-spacing="0.209">Qualzucht erlaubt</text>
<text x="594.42" y="954" letter-spacing="0.198">Qualzucht erlaubt</text>
<text x="866.9" y="954" letter-spacing="0.22">Qualzucht erlaubt</text>
<text x="1145.1" y="954" letter-spacing="0.214">Qualzucht erlaubt</text>
<text x="22.81" y="1048" letter-spacing="0.131">Besatzdichte für Hähne mit</text>
<text transform="translate(263.1,1048) scale(1.3,1)" font-size="14.2" letter-spacing="0.084">21</text>
<text x="288.53" y="1048" letter-spacing="0.818">kg</text>
<text x="834" y="1048" font-size="18.5" font-weight="normal" stroke="none" fill="#929292" letter-spacing="0.065">CC BY <tspan dy="3.3">4</tspan><tspan dy="-3.3">.</tspan><tspan font-size="14">0</tspan> -</text>
<text x="939.91" y="1048" font-size="18.5" font-weight="normal" stroke="none" fill="#929292" letter-spacing="0.558">Albert Schweitzer Stiftung für unsere Mitwelt</text>
</svg>
</div></body></html>
